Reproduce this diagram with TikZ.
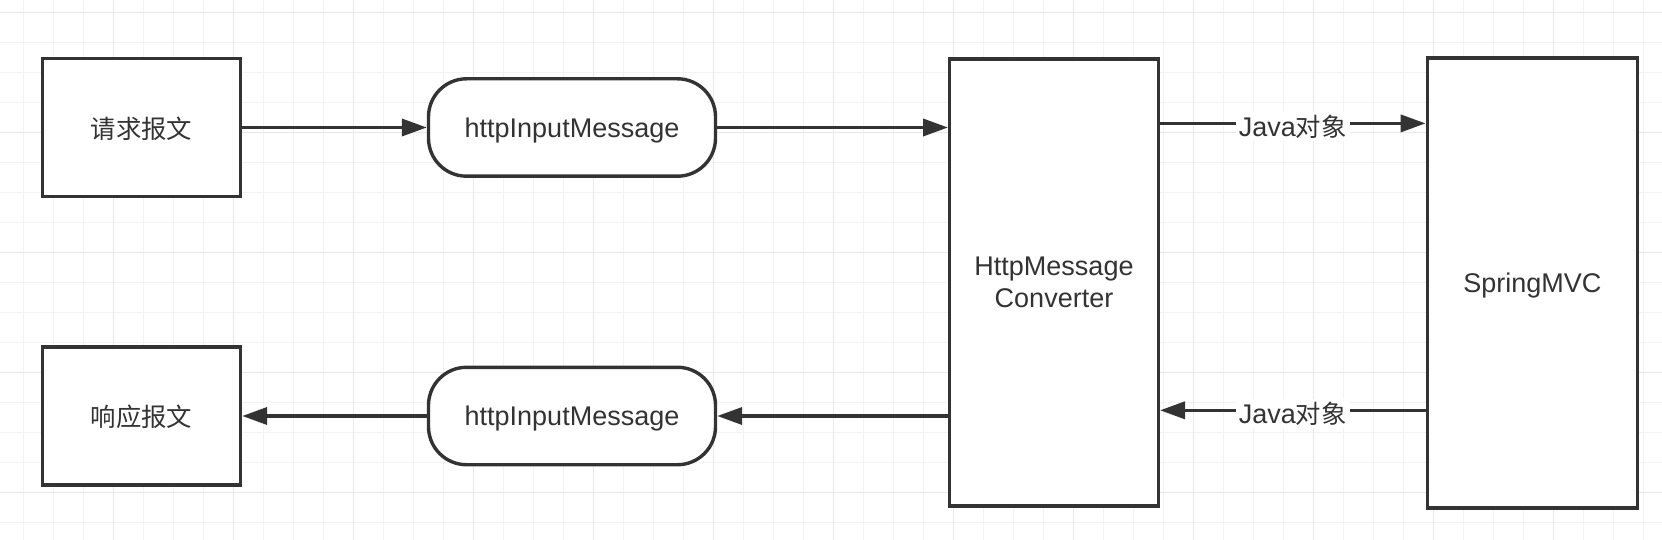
\documentclass[tikz,border=0pt]{standalone}
\usepackage{fontspec}
\setmainfont{Liberation Sans}
\newfontfamily\cjk[Scale=0.94]{Noto Sans CJK SC}
\usetikzlibrary{arrows.meta}
\definecolor{ink}{HTML}{333333}
\definecolor{gridminor}{HTML}{F3F3F3}
\definecolor{gridmajor}{HTML}{E8E8E8}
\tikzset{
	block/.style={draw=ink,line width=1.7pt,fill=white,text=ink,font=\fontsize{13.5pt}{15.9pt}\selectfont,align=center,inner sep=0pt,text depth=0pt},
	pill/.style={block,rounded corners=19pt},
	flow/.style={draw=ink,line width=1.8pt,-{Triangle[length=12.5pt,width=8.5pt]}},
	tag/.style={fill=white,text=ink,font=\fontsize{13.5pt}{15.9pt}\selectfont,inner sep=1.5pt,yshift=-1.5pt},
	gridline/.style={line width=0.75pt}
}

\begin{document}
\begin{tikzpicture}[x=0.5pt,y=-0.5pt]
	\fill[white] (0,0) rectangle (1662,540);
	\useasboundingbox (0,0) rectangle (1662,540);

	\foreach \k in {0,...,54}
		\draw[gridline,gridminor] (23.3+30*\k,0) -- (23.3+30*\k,540);
	\foreach \k in {0,...,17}
		\draw[gridline,gridminor] (0,12.7+30*\k) -- (1662,12.7+30*\k);
	\foreach \k in {0,...,12}
		\draw[gridline,gridmajor] (113.3+120*\k,0) -- (113.3+120*\k,540);
	\foreach \k in {0,...,4}
		\draw[gridline,gridmajor] (0,12.7+120*\k) -- (1662,12.7+120*\k);

	\node[block,minimum width=99pt,minimum height=69pt] (req) at (141.5,127.5) {\cjk 请求报文};
	\node[block,minimum width=99pt,minimum height=69pt] (resp) at (141.5,416) {\cjk 响应报文};
	\node[pill,minimum width=143.5pt,minimum height=48.7pt] (in) at (572,127.5) {httpInputMessage};
	\node[pill,minimum width=143.5pt,minimum height=48.7pt] (out) at (572,416) {httpInputMessage};
	\node[block,minimum width=104.3pt,minimum height=223.5pt] (conv) at (1054,282.5) {HttpMessage\\Converter};
	\node[block,minimum width=105pt,minimum height=225pt] (mvc) at (1532.3,283) {SpringMVC};

	\draw[flow] (req.east) -- (in.west);
	\draw[flow] (in.east) -- (conv.west |- in.east);
	\draw[flow] (conv.east |- 0,123.4) -- (mvc.west |- 0,123.4) node[tag,midway] {Java{\cjk 对象}};
	\draw[flow] (mvc.west |- 0,410.3) -- (conv.east |- 0,410.3) node[tag,midway] {Java{\cjk 对象}};
	\draw[flow] (conv.west |- out.east) -- (out.east);
	\draw[flow] (out.west) -- (resp.east);
\end{tikzpicture}
\end{document}
